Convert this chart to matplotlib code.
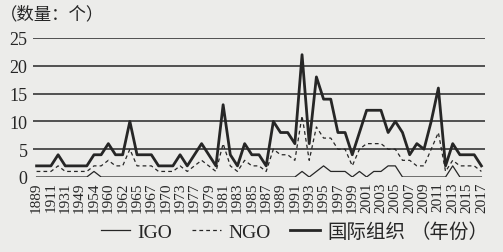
import numpy as np
import matplotlib.pyplot as plt

plt.rcParams['font.serif'] = ['Liberation Serif']
plt.rcParams['font.family'] = ['serif', 'Noto Sans CJK SC']

# 横轴年份（图中每隔一个显示）
year_labels = ['1889', '1911', '1931', '1949', '1954', '1960', '1962', '1965',
               '1967', '1970', '1973', '1977', '1979', '1981', '1983', '1985',
               '1987', '1989', '1991', '1993', '1995', '1997', '1999', '2001',
               '2003', '2005', '2007', '2009', '2011', '2013', '2015', '2017']

# 各年份数量（63 个类别）
igo = [0, 0, 0, 0, 0, 0, 0, 0, 1, 0,
       0, 0, 0, 0, 0, 0, 0, 0, 0, 0,
       0, 0, 0, 0, 0, 0, 0, 0, 0, 0,
       0, 0, 0, 0, 0, 0, 0, 1, 0, 1,
       2, 1, 1, 1, 0, 1, 0, 1, 1, 2,
       2, 0, 0, 0, 0, 0, 0, 0, 2, 0,
       0, 0, 0]
ngo = [1, 1, 1, 2, 1, 1, 1, 1, 2, 2,
       3, 2, 2, 5, 2, 2, 2, 1, 1, 1,
       2, 1, 2, 3, 2, 1, 6, 2, 1, 3,
       2, 2, 1, 5, 4, 4, 3, 11, 3, 9,
       7, 7, 5, 5, 2, 5, 6, 6, 6, 5,
       5, 3, 3, 2, 2, 5, 8, 1, 3, 2,
       2, 2, 1]
total = [2, 2, 2, 4, 2, 2, 2, 2, 4, 4,
         6, 4, 4, 10, 4, 4, 4, 2, 2, 2,
         4, 2, 4, 6, 4, 2, 13, 4, 2, 6,
         4, 4, 2, 10, 8, 8, 6, 22, 6, 18,
         14, 14, 8, 8, 4, 8, 12, 12, 12, 8,
         10, 8, 4, 6, 5, 10, 16, 2, 6, 4,
         4, 4, 2]

x = np.arange(len(total))
ink = '#262626'

fig = plt.figure(figsize=(5.03, 2.53), dpi=100)
fig.patch.set_facecolor('#ececea')
ax = fig.add_axes([33 / 503, 1 - 178 / 253, (485 - 33) / 503, (178 - 39) / 253])
ax.set_facecolor('none')

l1, = ax.plot(x, igo, color=ink, lw=0.9, label='IGO')
l2, = ax.plot(x, ngo, color=ink, lw=0.9, ls=(0, (3, 2.5)), label='NGO')
l3, = ax.plot(x, total, color=ink, lw=2.0, label='国际组织')

ax.set_xlim(-0.5, len(total) - 0.5)
ax.set_ylim(0, 25)
ax.set_yticks([0, 5, 10, 15, 20, 25])
ax.yaxis.grid(True, color='#444444', lw=1.3)
ax.get_ygridlines()[0].set_visible(False)
ax.set_axisbelow(True)
ax.set_xticks(x[::2])
ax.set_xticklabels(year_labels, rotation=90, fontsize=11, color=ink)
ax.tick_params(axis='x', length=0, pad=3)
ax.tick_params(axis='y', length=0, pad=4, labelsize=13, labelcolor=ink)
for s in ax.spines.values():
    s.set_visible(False)

fig.text(0 / 503, 1 - 15 / 253, '（数量：个）', fontsize=12.5, color=ink, va='center', ha='left')

fig.legend(handles=[l1, l2, l3], loc='center', bbox_to_anchor=(253 / 503, 1 - 233 / 253),
           ncol=3, frameon=False, fontsize=14, handlelength=1.5, handletextpad=0.4,
           columnspacing=1.0, labelcolor=ink, borderpad=0, borderaxespad=0)
fig.text(410 / 503, 1 - 233 / 253, '（年份）', fontsize=14, color=ink, va='center', ha='left')

fig.savefig('out.png', dpi=100, facecolor=fig.get_facecolor())
